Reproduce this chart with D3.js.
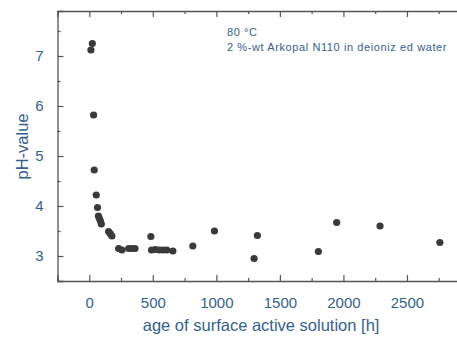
<!DOCTYPE html>
<html><head><meta charset="utf-8">
<script src="https://cdn.jsdelivr.net/npm/d3@7"></script>
<style>body{margin:0;background:#fff}svg{display:block}</style>
</head><body>
<script>
const ageHours = [13, 24, 34, 39, 55, 65, 72, 80, 88, 95, 152, 165, 178, 231, 257, 310, 335, 360, 485, 490, 520, 550, 580, 610, 658, 815, 985, 1297, 1323, 1803, 1947, 2288, 2759];
const phValues = [7.12, 7.25, 5.82, 4.72, 4.22, 3.97, 3.8, 3.75, 3.7, 3.64, 3.49, 3.45, 3.4, 3.15, 3.12, 3.15, 3.15, 3.15, 3.39, 3.12, 3.13, 3.12, 3.12, 3.12, 3.1, 3.2, 3.5, 2.95, 3.41, 3.09, 3.67, 3.6, 3.27];
const xTicks = [0, 500, 1000, 1500, 2000, 2500];
const yTicks = [3, 4, 5, 6, 7];
const annotation = ["80 °C", "2 %-wt Arkopal N110 in deioniz ed water"];
const xLabel = "age of surface active solution [h]";
const yLabel = "pH-value";

const W = 457, H = 337;
const svg = d3.select("body").append("svg").attr("width", W).attr("height", H);
const x = d3.scaleLinear().domain([-250, 3000]).range([57.5, 470.5]);
const y = d3.scaleLinear().domain([2.5, 7.9]).range([281, 11]);
const textCol = "#35618c", axisCol = "#555";
const fontF = "Arial, 'Liberation Sans', sans-serif";

const xMinor = d3.range(-250, 3001, 250).filter(v => !xTicks.includes(v));
const yMinor = d3.range(2.5, 7.91, 0.5).filter(v => !yTicks.includes(v));

// bottom axis
svg.append("g").attr("transform", `translate(0,${y(2.5)})`)
  .call(d3.axisBottom(x).tickValues(xTicks).tickSize(-6).tickPadding(16).tickFormat(d3.format("d")));
svg.append("g").attr("transform", `translate(0,${y(2.5)})`)
  .call(d3.axisBottom(x).tickValues(xMinor).tickSize(-3).tickFormat("")).select(".domain").remove();
// top axis
svg.append("g").attr("transform", `translate(0,${y(7.9)})`)
  .call(d3.axisTop(x).tickValues(xTicks).tickSize(-6).tickFormat(""));
svg.append("g").attr("transform", `translate(0,${y(7.9)})`)
  .call(d3.axisTop(x).tickValues(xMinor).tickSize(-3).tickFormat("")).select(".domain").remove();
// left axis
svg.append("g").attr("transform", `translate(${x(-250)},0)`)
  .call(d3.axisLeft(y).tickValues(yTicks).tickSize(-6).tickPadding(14).tickFormat(d3.format("d")));
svg.append("g").attr("transform", `translate(${x(-250)},0)`)
  .call(d3.axisLeft(y).tickValues(yMinor).tickSize(-3).tickFormat("")).select(".domain").remove();

svg.selectAll(".domain").attr("stroke", axisCol).attr("stroke-width", 1.3);
svg.selectAll(".tick line").attr("stroke", axisCol).attr("stroke-width", 1.2);
svg.selectAll(".tick text").attr("fill", textCol).attr("font-family", fontF).attr("font-size", 15);

// labels
svg.append("text").attr("x", x(1352)).attr("y", 331).attr("text-anchor", "middle")
  .attr("fill", textCol).attr("font-family", fontF).attr("font-size", 16.5).text(xLabel);
svg.append("text").attr("transform", `translate(28,${y(5.19)}) rotate(-90)`).attr("text-anchor", "middle")
  .attr("fill", textCol).attr("font-family", fontF).attr("font-size", 16.5).text(yLabel);

// annotation
svg.selectAll("text.ann").data(annotation).enter().append("text").attr("class", "ann")
  .attr("x", 227).attr("y", (d,i) => 36 + i*14.5)
  .attr("fill", textCol).attr("font-family", fontF).attr("font-size", 11)
  .attr("letter-spacing", 0.6).text(d => d);

// points
svg.append("g").selectAll("circle").data(ageHours.map((a,i)=>[a, phValues[i]])).enter()
  .append("circle").attr("cx", d=>x(d[0])).attr("cy", d=>y(d[1])).attr("r", 3.6)
  .attr("fill", "#3a3a3c");
</script>
</body></html>
